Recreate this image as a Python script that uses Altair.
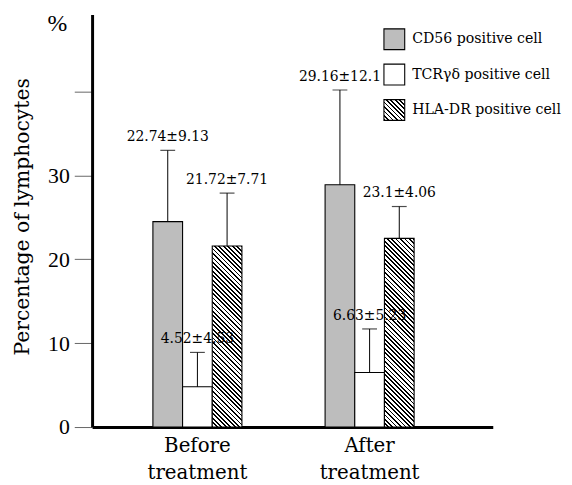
import altair as alt
import pandas as pd

# ---- data ----
groups = ["Before|treatment", "After|treatment"]
cells = ["CD56", "TCR", "HLA"]
legend_labels = ["CD56 positive cell", "TCRγδ positive cell", "HLA-DR positive cell"]
means_before = [24.5, 4.8, 21.6]
means_after = [28.9, 6.5, 22.5]
errtop_before = [33.0, 8.9, 27.9]
errtop_after = [40.2, 11.7, 26.3]
labels_before = ["22.74±9.13", "4.52±4.53", "21.72±7.71"]
labels_after = ["29.16±12.1", "6.63±5.23", "23.1±4.06"]
y_ticks = [0, 10, 20, 30, 40]

W, H = 405, 417
YMAX = 49.2
BAR_W = 30

rows = []
for g, means, tops, labs in [(groups[0], means_before, errtop_before, labels_before),
                             (groups[1], means_after, errtop_after, labels_after)]:
    for c, m, t, l in zip(cells, means, tops, labs):
        rows.append({"group": g, "cell": c, "value": m, "errtop": t, "label": l})
df = pd.DataFrame(rows)


def hatch(h, w, period=4.5, line=1.8):
    span = h + w
    k = span / (w * w + h * h)
    stops = []
    s = 0.0
    while s < span:
        a = round(s / span, 5)
        b = round(min((s + line) / span, 1.0), 5)
        c = round(min((s + period) / span, 1.0), 5)
        stops += [{"offset": a, "color": "#000"}, {"offset": b, "color": "#000"},
                  {"offset": b, "color": "#fff"}, {"offset": c, "color": "#fff"}]
        s += period
    return {"gradient": "linear", "x1": 1, "y1": 0, "x2": 1 - k * w, "y2": k * h,
            "stops": stops}


xscale = alt.Scale(domain=groups, paddingInner=0.483, paddingOuter=0.405, align=0.436)
xaxis = alt.Axis(title=None, labelExpr="split(datum.label, '|')", labelAngle=0,
                 labelFont="DejaVu Serif", labelFontSize=20, labelColor="black",
                 labelLineHeight=27, labelPadding=9, labelBaseline="top",
                 ticks=False, domainWidth=3, domainColor="black")
yscale = alt.Scale(domain=[0, YMAX], nice=False, zero=True)
yaxis = alt.Axis(values=y_ticks, labelExpr="datum.value == 40 ? '' : datum.label",
                 title="Percentage of lymphocytes", titleFont="DejaVu Serif",
                 titleFontSize=20.5, titleFontWeight="normal", titleColor="black",
                 titleAngle=270, titleX=-64, titleY=204, titleAlign="center",
                 titleBaseline="alphabetic",
                 labelFont="Liberation Serif", labelFontSize=22, labelColor="black",
                 labelPadding=5, tickSize=18, tickColor="#666", tickWidth=1,
                 domainWidth=3, domainColor="black", grid=False)

X = alt.X("group:N", scale=xscale, axis=xaxis, sort=groups)
XO = alt.XOffset("cell:N", scale=alt.Scale(domain=cells, paddingInner=0, paddingOuter=0),
                 sort=cells)


def Y(field):
    return alt.Y(field, scale=yscale, axis=yaxis)


base = alt.Chart(df)

plain = base.transform_filter(alt.datum.cell != "HLA").mark_bar(
    stroke="black", strokeWidth=1.1).encode(
    x=X, xOffset=XO, y=Y("value:Q"),
    fill=alt.Fill("cell:N", scale=alt.Scale(domain=["CD56", "TCR"], range=["#bdbdbd", "white"]),
                  legend=None))

layers = [plain]
for g, means in [(groups[0], means_before), (groups[1], means_after)]:
    hval = means[2]
    hpx = hval / YMAX * H
    layers.append(base.transform_filter((alt.datum.cell == "HLA") & (alt.datum.group == g))
                  .mark_bar(fill=hatch(hpx, BAR_W), stroke="black", strokeWidth=1.1)
                  .encode(x=X, xOffset=XO, y=Y("value:Q")))

err = base.mark_rule(color="black", strokeWidth=1).encode(
    x=X, xOffset=XO, y=Y("value:Q"), y2="errtop:Q")
cap = base.mark_tick(color="black", thickness=1.2, size=15, orient="horizontal").encode(
    x=X, xOffset=XO, y=Y("errtop:Q"))
txt = base.mark_text(font="DejaVu Serif", fontSize=14, baseline="middle", align="center",
                     dy=-13.5, color="black").encode(
    x=X, xOffset=XO, y=Y("errtop:Q"), text="label:N")
layers += [err, cap, txt]

pct = alt.Chart(pd.DataFrame({"t": ["%"]})).mark_text(
    font="Liberation Serif", fontSize=24, baseline="middle", align="center", color="black"
).encode(text="t:N", x=alt.value(-35), y=alt.value(10))
layers.append(pct)

# manual legend
sw_fills = ["#bdbdbd", "white", hatch(21, 21)]
row_y = [25, 60.7, 96.5]
for lab, f, cy in zip(legend_labels, sw_fills, row_y):
    ldf = pd.DataFrame({"t": [lab]})
    layers.append(alt.Chart(ldf).mark_rect(fill=f, stroke="black", strokeWidth=1.1).encode(
        x=alt.value(295), x2=alt.value(316), y=alt.value(cy - 10.5), y2=alt.value(cy + 10.5)))
    layers.append(alt.Chart(ldf).mark_text(font="DejaVu Serif", fontSize=14.3, align="left",
                                           baseline="middle", color="black").encode(
        text="t:N", x=alt.value(323.5), y=alt.value(cy)))

chart = alt.layer(*layers).properties(
    width=W, height=H, autosize="none",
    padding={"left": 85, "top": 4, "right": 72, "bottom": 56},
    background="white",
).configure_view(stroke=None)

chart.save("out.html", embed_options={"renderer": "svg", "actions": False})
